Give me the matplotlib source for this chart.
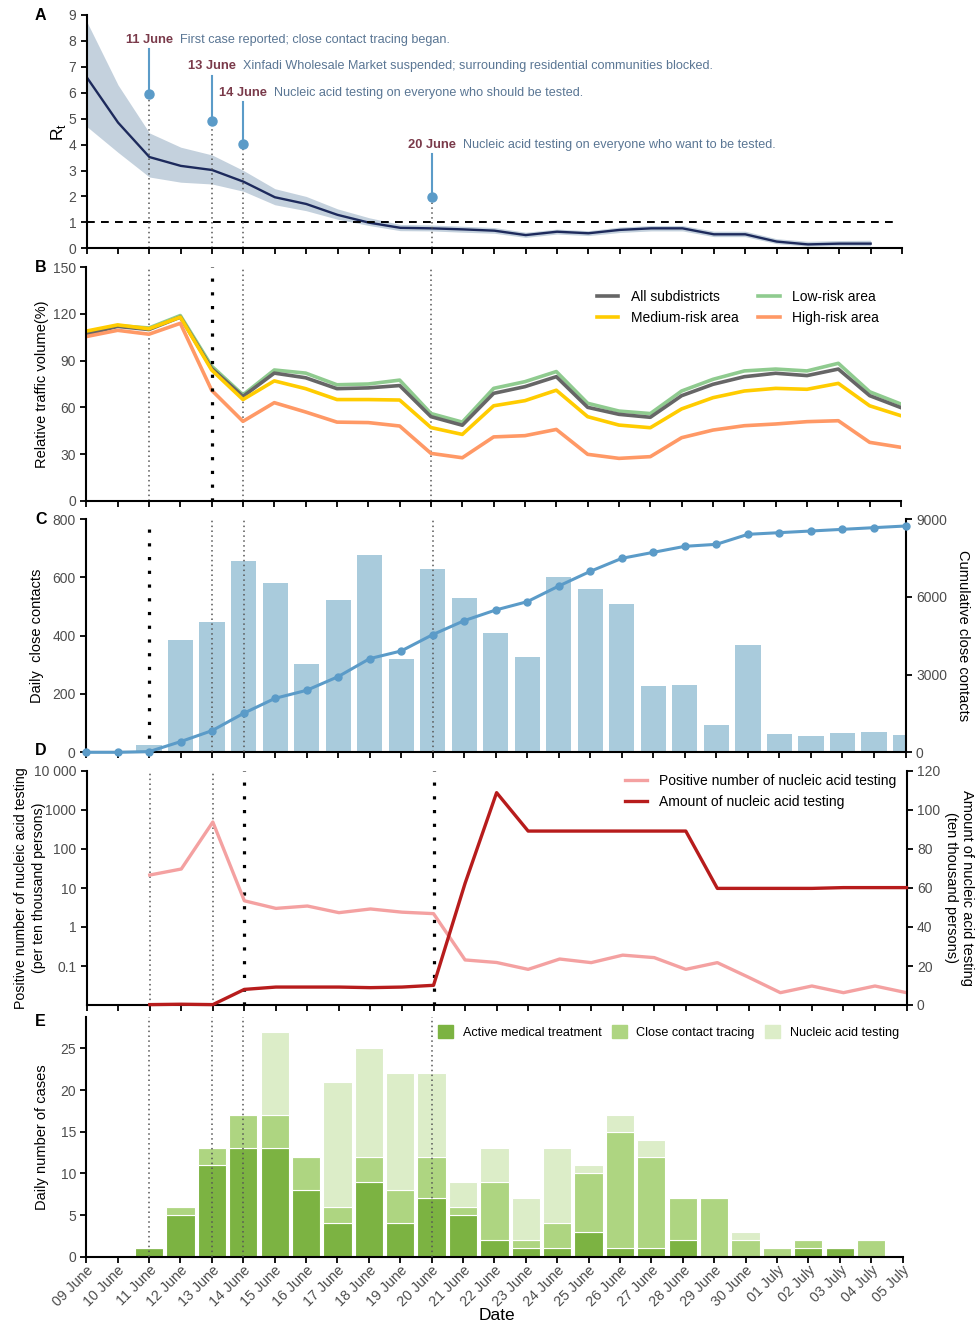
import matplotlib
matplotlib.use('Agg')
import matplotlib.pyplot as plt
import numpy as np
from matplotlib.patches import Patch

plt.rcParams['font.family'] = ['Liberation Sans', 'DejaVu Sans']

# ---------------- data ----------------
dates = ['09 June', '10 June', '11 June', '12 June', '13 June', '14 June', '15 June',
         '16 June', '17 June', '18 June', '19 June', '20 June', '21 June', '22 June',
         '23 June', '24 June', '25 June', '26 June', '27 June', '28 June', '29 June',
         '30 June', '01 July', '02 July', '03 July', '04 July', '05 July']

# Panel A: Rt (09 June - 04 July)
rt_mean = [6.6, 4.85, 3.52, 3.18, 3.02, 2.57, 1.97, 1.71, 1.29, 0.99, 0.79, 0.77,
           0.73, 0.68, 0.51, 0.64, 0.58, 0.71, 0.77, 0.77, 0.54, 0.54, 0.26, 0.15, 0.18, 0.18]
rt_upper = [8.75, 6.3, 4.45, 3.9, 3.6, 3.0, 2.3, 2.0, 1.52, 1.18, 0.92, 0.9, 0.85, 0.8,
            0.62, 0.74, 0.68, 0.82, 0.88, 0.88, 0.66, 0.66, 0.37, 0.27, 0.3, 0.31]
rt_lower = [4.7, 3.7, 2.75, 2.55, 2.48, 2.2, 1.68, 1.45, 1.12, 0.88, 0.68, 0.67, 0.62,
            0.58, 0.42, 0.55, 0.49, 0.61, 0.67, 0.67, 0.45, 0.45, 0.18, 0.08, 0.1, 0.1]
event_days = ['11 June', '13 June', '14 June', '20 June']
event_texts = ['First case reported; close contact tracing began.',
               'Xinfadi Wholesale Market suspended; surrounding residential communities blocked.',
               'Nucleic acid testing on everyone who should be tested.',
               'Nucleic acid testing on everyone who want to be tested.']

# Panel B: relative traffic volume (%)
traffic_all = [107, 112, 110, 118, 85, 67, 82, 79, 72, 72.5, 74, 54, 48.5, 69, 73.3, 79.7,
               60, 55.5, 53.6, 67.5, 74.8, 79.7, 81.9, 80.4, 84.6, 67.5, 59.8]
traffic_low = [107.5, 112.5, 111, 119, 86.5, 68, 84, 82, 74.5, 75, 77.5, 56, 50.5, 72.2,
               76.5, 83, 62.6, 57.6, 56, 70.5, 78, 83.4, 84.6, 83.4, 88.3, 70, 62.1]
traffic_med = [109, 113, 110.5, 118, 84, 65, 77, 72, 65, 65, 64.7, 47, 42.6, 61, 64.3, 71,
               54, 48.6, 46.9, 59, 66.2, 70.5, 72.2, 71.6, 75.4, 61, 54.6]
traffic_high = [105.5, 109.5, 107, 114, 71, 51, 63, 57, 50.5, 50.2, 48, 30.4, 27.6, 41,
                41.8, 45.8, 29.8, 27.2, 28.3, 40.5, 45.4, 48.2, 49.3, 50.8, 51.4, 37.5, 34.3]

# Panel C: close contacts
daily_contacts = [0, 0, 26, 386, 446, 656, 579, 304, 522, 678, 319, 630, 528, 410, 327,
                  601, 559, 507, 227, 232, 94, 367, 64, 56, 65, 69, 59]
cum_contacts = [0, 0, 26, 411, 836, 1504, 2083, 2391, 2919, 3613, 3909, 4539, 5079, 5490,
                5811, 6415, 6981, 7483, 7714, 7946, 8023, 8409, 8473, 8537, 8601, 8666, 8730]

# Panel D: nucleic acid testing (11 June - 05 July)
positive_rate = [21.5, 30.7, 492, 4.7, 3.0, 3.45, 2.33, 2.9, 2.4, 2.2, 0.143, 0.123, 0.082,
                 0.151, 0.122, 0.19, 0.164, 0.082, 0.122, 0.051, 0.0207, 0.0307, 0.0207,
                 0.0307, 0.0207]
test_amount = [0.2, 0.4, 0.2, 8.0, 9.2, 9.2, 9.2, 8.9, 9.2, 10.1, 62.4, 108.9, 89.2, 89.2,
               89.2, 89.2, 89.2, 89.2, 59.8, 59.8, 59.8, 59.8, 60.2, 60.2, 60.2]

# Panel E: daily cases by detection route
cases_active = [0, 0, 1, 5, 11, 13, 13, 8, 4, 9, 4, 7, 5, 2, 1, 1, 3, 1, 1, 2, 0, 0, 0, 1, 1, 0, 0]
cases_contact = [0, 0, 0, 1, 2, 4, 4, 4, 2, 3, 4, 5, 1, 7, 1, 3, 7, 14, 11, 5, 7, 2, 1, 1, 0, 2, 0]
cases_testing = [0, 0, 0, 0, 0, 0, 10, 0, 15, 13, 14, 10, 3, 4, 5, 9, 1, 2, 2, 0, 0, 1, 0, 0, 0, 0, 0]

# ---------------- styling ----------------
TICK_COL = '#4d4d4d'
W, H = 976, 1326
fig = plt.figure(figsize=(W / 100, H / 100), dpi=100)


def add_ax(l, r, t, b):
    return fig.add_axes([l / W, 1 - b / H, (r - l) / W, (b - t) / H])


def style(ax):
    for s in ['top', 'right']:
        ax.spines[s].set_visible(False)
    ax.spines['left'].set_linewidth(1.5)
    ax.spines['bottom'].set_linewidth(1.5)
    ax.tick_params(direction='out', length=4, width=1.3, labelsize=10,
                   labelcolor=TICK_COL, color='black')


def style_twin(ax):
    for s in ['top', 'left', 'bottom']:
        ax.spines[s].set_visible(False)
    ax.spines['right'].set_linewidth(1.5)
    ax.tick_params(direction='out', length=4, width=1.3, labelsize=10, labelcolor=TICK_COL)


x = np.arange(len(dates))
xpos = {d: i for i, d in enumerate(dates)}

thin_dot = dict(color='#555555', lw=1.1, ls=(0, (1, 2.2)))
thick_dot = dict(color='black', lw=2.3, ls=(0, (1, 3.3)))

axA = add_ax(86.7, 902, 15, 248.3)
axB = add_ax(86.3, 901, 267.3, 500.7)
axC = add_ax(86, 905.5, 519, 752.3)
axD = add_ax(86.7, 906.5, 771, 1005)
axE = add_ax(86.3, 902.5, 1016.7, 1256.7)

for ax in [axA, axB, axC, axD, axE]:
    style(ax)
    ax.set_xlim(0, len(dates) - 1)
    ax.set_xticks(x)
for ax in [axA, axB, axC, axD]:
    ax.set_xticklabels([])


def left_label(ax, text, xpix, **kw):
    ax.set_ylabel(text, va='center', ha='center', **kw)
    l = ax.get_position().x0 * W
    w = ax.get_position().width * W
    ax.yaxis.set_label_coords((xpix - l) / w, 0.5)


# ---------------- Panel A ----------------
xa = x[:len(rt_mean)]
axA.fill_between(xa, rt_lower, rt_upper, color='#c4d1dd', lw=0)
axA.plot(xa, rt_mean, color='#1d2a5c', lw=1.7)
axA.plot([0, len(dates) - 1.2], [1, 1], color='black', lw=1.4, ls=(0, (4, 3.2)))
axA.set_ylim(0, 9)
axA.set_yticks(range(10))
left_label(axA, r'R$_\mathregular{t}$', 58, fontsize=12.5)

pin_y = [5.97, 4.9, 4.03, 1.99]
stem_top = [7.7, 6.65, 5.65, 3.64]
label_y = [8.03, 7.03, 6.0, 4.0]
pin_col = '#5b9bc8'
for d, txt, py, st, ly in zip(event_days, event_texts, pin_y, stem_top, label_y):
    xd = xpos[d]
    axA.plot([xd, xd], [0, py], **thin_dot, zorder=2)
    axA.plot([xd, xd], [py, st], color=pin_col, lw=1.5, zorder=3)
    axA.plot([xd], [py], 'o', color=pin_col, ms=6.5, zorder=4)
    t = axA.text(xd, ly, d, ha='center', va='center', fontsize=9.3, fontweight='bold',
                 color='#7a3a4a')
    axA.annotate(txt, xy=(1, 0), xycoords=t, xytext=(5, 0), textcoords='offset points',
                 ha='left', va='bottom', fontsize=9.1, color='#5a7694')

# ---------------- Panel B ----------------
lw_b = 2.6
lB_low, = axB.plot(x, traffic_low, color='#8fcb8f', lw=lw_b, label='Low-risk area')
lB_all, = axB.plot(x, traffic_all, color='#666666', lw=lw_b, label='All subdistricts')
lB_med, = axB.plot(x, traffic_med, color='#ffcc00', lw=lw_b, label='Medium-risk area')
lB_high, = axB.plot(x, traffic_high, color='#ff9966', lw=lw_b, label='High-risk area')
axB.set_ylim(0, 150)
axB.set_yticks(range(0, 151, 30))
left_label(axB, 'Relative traffic volume(%)', 41.7, fontsize=10.5)
for d in ['11 June', '14 June', '20 June']:
    axB.axvline(xpos[d], **thin_dot, zorder=1)
axB.axvline(xpos['13 June'], **thick_dot, zorder=5)
axB.legend(handles=[lB_all, lB_med, lB_low, lB_high], ncol=2, frameon=False,
           loc='upper left', bbox_to_anchor=(0.62, 0.927), fontsize=10,
           handlelength=1.55, handletextpad=0.9, columnspacing=1.4, labelspacing=0.5,
           borderaxespad=0)

# ---------------- Panel C ----------------
axC.bar(x, daily_contacts, width=0.8, color='#a9cbdc', zorder=1)
axC.set_ylim(0, 800)
axC.set_yticks(range(0, 801, 200))
left_label(axC, 'Daily  close contacts', 36.7, fontsize=10.5)
for d in ['13 June', '14 June', '20 June']:
    axC.axvline(xpos[d], **thin_dot, zorder=3)
axC.axvline(xpos['11 June'], **thick_dot, zorder=3)
axC2 = axC.twinx()
style_twin(axC2)
axC2.plot(x, cum_contacts, color='#5b9bc8', lw=2.2, marker='o', ms=5, clip_on=False, zorder=5)
axC2.set_ylim(0, 9000)
axC2.set_yticks(range(0, 9001, 3000))
axC2.set_ylabel('Cumulative close contacts', fontsize=10.5, rotation=270, va='center')
axC2.yaxis.set_label_coords(1.070, 0.5)

# ---------------- Panel D ----------------
xd0 = xpos['11 June']
xdd = x[xd0:xd0 + len(positive_rate)]
axD.set_yscale('log')
lD_pos, = axD.plot(xdd, positive_rate, color='#f4a1a1', lw=2.4,
                   label='Positive number of nucleic acid testing', zorder=4)
axD.set_ylim(0.01, 10000)
axD.set_yticks([0.1, 1, 10, 100, 1000, 10000])
axD.set_yticklabels(['0.1', '1', '10', '100', '1000', '10 000'])
axD.yaxis.set_minor_locator(matplotlib.ticker.NullLocator())
# two-line y label drawn as two separate texts
fig.text(21.5 / W, 1 - 888 / H, 'Positive number of nucleic acid testing', rotation=90,
         ha='center', va='center', fontsize=10.2)
fig.text(39.0 / W, 1 - 888 / H, '(per ten thousand persons)', rotation=90,
         ha='center', va='center', fontsize=10.2)
for d in ['11 June', '13 June']:
    axD.axvline(xpos[d], **thin_dot, zorder=1)
for d in ['14 June', '20 June']:
    axD.axvline(xpos[d], **thick_dot, zorder=1)
axD2 = axD.twinx()
style_twin(axD2)
lD_amt, = axD2.plot(xdd, test_amount, color='#b71c1c', lw=2.4, clip_on=False,
                    label='Amount of nucleic acid testing', zorder=4)
axD2.set_ylim(0, 120)
axD2.set_yticks(range(0, 121, 20))
axD2.set_ylabel('Amount of nucleic acid testing\n(ten thousand persons)', fontsize=10.5,
                rotation=270, va='center', linespacing=1.2)
axD2.yaxis.set_label_coords(1.064, 0.5)
axD2.legend(handles=[lD_pos, lD_amt], frameon=False, loc='upper left',
            bbox_to_anchor=(0.65, 1.01), fontsize=10, handlelength=1.55,
            handletextpad=0.9, labelspacing=0.5, borderaxespad=0)

# ---------------- Panel E ----------------
c_act, c_con, c_nat = '#7cb342', '#aed581', '#dcedc8'
bottom2 = np.array(cases_active) + np.array(cases_contact)
axE.bar(x, cases_active, width=0.9, color=c_act, edgecolor='white', lw=0.8, zorder=1)
axE.bar(x, cases_contact, bottom=cases_active, width=0.9, color=c_con, edgecolor='white',
        lw=0.8, zorder=1)
axE.bar(x, cases_testing, bottom=bottom2, width=0.9, color=c_nat, edgecolor='white',
        lw=0.8, zorder=1)
axE.set_ylim(0, 28.8)
axE.set_yticks(range(0, 26, 5))
left_label(axE, 'Daily number of cases', 41.7, fontsize=10.5)
for d in ['11 June', '13 June', '14 June', '20 June']:
    axE.axvline(xpos[d], **thin_dot, zorder=3)
axE.set_xticklabels(dates, rotation=45, ha='right', va='top', rotation_mode='anchor',
                    fontsize=10.3, color=TICK_COL)
axE.tick_params(axis='x', pad=0.5)
fig.text(497 / W, 1 - 1316 / H, 'Date', ha='center', va='center', fontsize=12.5)
axE.legend(handles=[Patch(color=c_act, label='Active medical treatment'),
                    Patch(color=c_con, label='Close contact tracing'),
                    Patch(color=c_nat, label='Nucleic acid testing')],
           ncol=3, frameon=False, loc='upper left', bbox_to_anchor=(0.425, 0.985),
           fontsize=9.1, handlelength=1.2, handleheight=1.2, handletextpad=0.75,
           columnspacing=0.8, borderaxespad=0)

# ---------------- panel letters ----------------
for letter, yy in zip('ABCDE', [15, 267.7, 520, 750.3, 1021]):
    fig.text(40.7 / W, 1 - yy / H, letter, ha='center', va='center', fontsize=11.5,
             fontweight='bold')

fig.savefig('out.png', dpi=100)
